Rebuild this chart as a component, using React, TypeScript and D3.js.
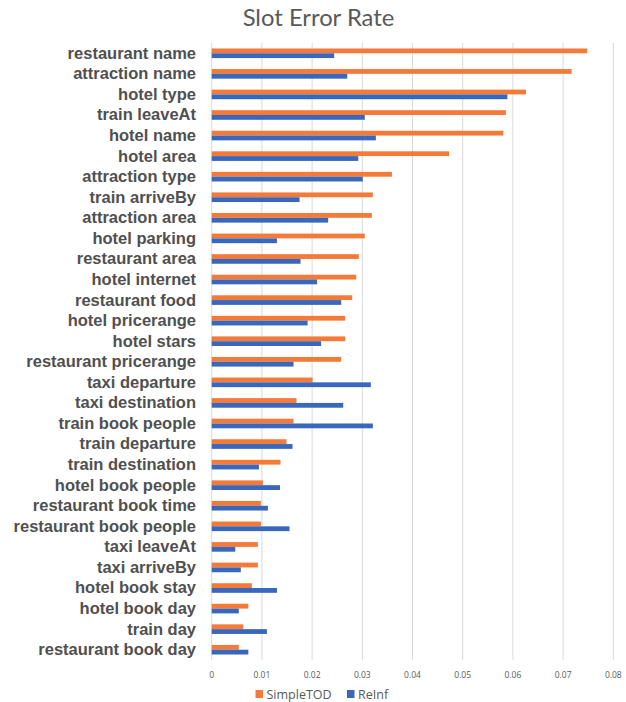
import React from "react";
import * as d3 from "d3";

const categories = [
  "restaurant name", "attraction name", "hotel type", "train leaveAt", "hotel name",
  "hotel area", "attraction type", "train arriveBy", "attraction area", "hotel parking",
  "restaurant area", "hotel internet", "restaurant food", "hotel pricerange", "hotel stars",
  "restaurant pricerange", "taxi departure", "taxi destination", "train book people", "train departure",
  "train destination", "hotel book people", "restaurant book time", "restaurant book people", "taxi leaveAt",
  "taxi arriveBy", "hotel book stay", "hotel book day", "train day", "restaurant book day",
];

const simpleTOD = [
  0.0748, 0.0717, 0.0626, 0.0586, 0.0581,
  0.0473, 0.0359, 0.0321, 0.0319, 0.0305,
  0.0293, 0.0288, 0.028, 0.0266, 0.0266,
  0.0258, 0.0201, 0.0169, 0.0163, 0.0149,
  0.0137, 0.0102, 0.0098, 0.0098, 0.0092,
  0.0092, 0.008, 0.0073, 0.0063, 0.0054,
];

const reInf = [
  0.0244, 0.027, 0.0589, 0.0305, 0.0327,
  0.0292, 0.0301, 0.0175, 0.0232, 0.013,
  0.0177, 0.021, 0.0258, 0.0191, 0.0218,
  0.0163, 0.0317, 0.0262, 0.0321, 0.0161,
  0.0094, 0.0136, 0.0112, 0.0155, 0.0047,
  0.0058, 0.013, 0.0054, 0.011, 0.0073,
];

const xTicks = [0, 0.01, 0.02, 0.03, 0.04, 0.05, 0.06, 0.07, 0.08];
const seriesNames = ["SimpleTOD", "ReInf"];
const title = "Slot Error Rate";

const COLORS = ["#F47A3A", "#3867BC"];
const W = 626;
const H = 702;

export default function App() {
  const x = d3.scaleLinear().domain([0, 0.08]).range([211.7, 613.3]);
  const y = d3.scaleBand<string>().domain(categories).range([43, 660]).padding(0);
  const bh = 4.8;
  const inner = d3.scaleBand<string>().domain(seriesNames).range([-bh, bh]).padding(0);
  const series = [simpleTOD, reInf];
  const fmt = (v: number) => (v === 0 ? "0" : d3.format(".2f")(v));

  return (
    <svg width={W} height={H} style={{ position: "absolute", left: 0, top: 0, background: "#fff" }}>
      <text x={318.5} y={26} textAnchor="middle" fontFamily="Lato, 'Open Sans', sans-serif" fontSize={23.8} fill="#595959">
        {title}
      </text>
      {xTicks.map((t) => (
        <line key={"g" + t} x1={x(t)} x2={x(t)} y1={43} y2={660} stroke="#d9d9d9" strokeWidth={1} />
      ))}
      {categories.map((c, i) => {
        const cy = (y(c) as number) + y.bandwidth() / 2;
        return (
          <g key={c}>
            {series.map((s, k) => (
              <rect
                key={k}
                x={x(0)}
                y={cy + (inner(seriesNames[k]) as number)}
                width={x(s[i]) - x(0)}
                height={inner.bandwidth()}
                fill={COLORS[k]}
              />
            ))}
            <text
              x={196}
              y={cy}
              dy="0.33em"
              textAnchor="end"
              fontFamily="'Liberation Sans', Arial, sans-serif"
              fontWeight="bold"
              fontSize={16.5}
              fill="#505050"
            >
              {c}
            </text>
          </g>
        );
      })}
      {xTicks.map((t) => (
        <text key={"t" + t} x={x(t)} y={678} textAnchor="middle" fontFamily="'Open Sans', sans-serif" fontSize={8.5} fill="#595959">
          {fmt(t)}
        </text>
      ))}
      {seriesNames.map((n, k) => {
        const lx = k === 0 ? 255.5 : 347;
        return (
          <g key={n}>
            <rect x={lx} y={690} width={7.5} height={8} fill={COLORS[k]} />
            <text x={lx + 11} y={698.5} fontFamily="'Open Sans', sans-serif" fontSize={12.5} fill="#595959">
              {n}
            </text>
          </g>
        );
      })}
    </svg>
  );
}
